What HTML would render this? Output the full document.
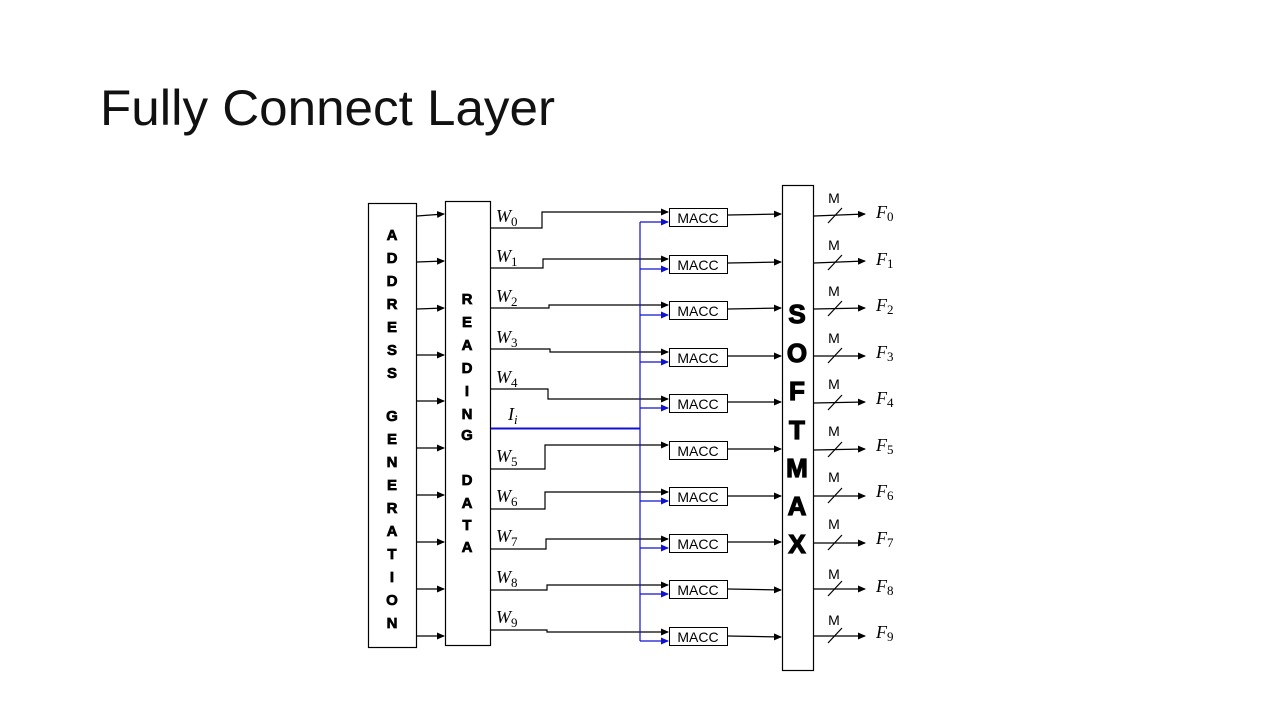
<!DOCTYPE html>
<html><head><meta charset="utf-8"><style>
html,body{margin:0;padding:0;background:#fff;}
svg{display:block;}
.m{font-family:"Liberation Sans",sans-serif;font-size:14px;text-anchor:middle;}
.i{font-family:"Liberation Serif",serif;font-style:italic;font-size:18px;}
.s{font-family:"Liberation Serif",serif;font-style:normal;font-size:13px;}
</style></head><body>
<svg width="1280" height="720" viewBox="0 0 1280 720" xmlns="http://www.w3.org/2000/svg">
<defs>
<marker id="ak" markerWidth="8" markerHeight="8" refX="7" refY="4" orient="auto" markerUnits="userSpaceOnUse"><path d="M0,0.5 L8,4 L0,7.5 Z" fill="#000"/></marker>
<marker id="ab" markerWidth="8" markerHeight="8" refX="7" refY="4" orient="auto" markerUnits="userSpaceOnUse"><path d="M0,0.5 L8,4 L0,7.5 Z" fill="#1010d0"/></marker>
</defs>
<text x="100" y="125" font-family="Liberation Sans, sans-serif" font-size="50" textLength="455" lengthAdjust="spacingAndGlyphs" fill="#111">Fully Connect Layer</text>

<g fill="none" stroke="#000" stroke-width="1.2">
<rect x="368.5" y="203.5" width="48" height="444"/>
<rect x="445.5" y="201.5" width="45" height="444"/>
<rect x="782.5" y="185.5" width="31" height="485"/>
</g>

<g font-family="Liberation Sans, sans-serif" font-weight="700" font-size="15" text-anchor="middle" stroke="#000" stroke-width="0.7">
<text x="392" y="240">A</text><text x="392" y="263">D</text><text x="392" y="286">D</text><text x="392" y="309">R</text><text x="392" y="332">E</text><text x="392" y="355">S</text><text x="392" y="378">S</text>
<text x="392" y="421">G</text><text x="392" y="444">E</text><text x="392" y="467">N</text><text x="392" y="490">E</text><text x="392" y="513">R</text><text x="392" y="536">A</text><text x="392" y="559">T</text><text x="392" y="582">I</text><text x="392" y="605">O</text><text x="392" y="628">N</text>
<text x="467" y="304">R</text><text x="467" y="327">E</text><text x="467" y="350">A</text><text x="467" y="373">D</text><text x="467" y="396">I</text><text x="467" y="419">N</text><text x="467" y="440">G</text>
<text x="467" y="485">D</text><text x="467" y="508">A</text><text x="467" y="530">T</text><text x="467" y="552">A</text>
</g>

<g font-family="Liberation Sans, sans-serif" font-weight="700" font-size="26" text-anchor="middle" stroke="#000" stroke-width="1.2">
<text x="797" y="323">S</text><text x="797" y="362">O</text><text x="797" y="400">F</text><text x="797" y="439">T</text><text x="797" y="477">M</text><text x="797" y="515">A</text><text x="797" y="553">X</text>
</g>

<g stroke="#000" stroke-width="1.2" marker-end="url(#ak)">
<line x1="417" y1="216" x2="444" y2="214"/><line x1="417" y1="262" x2="444" y2="261"/><line x1="417" y1="309" x2="444" y2="308"/><line x1="417" y1="355" x2="444" y2="355"/><line x1="417" y1="401" x2="444" y2="401"/><line x1="417" y1="448" x2="444" y2="448"/><line x1="417" y1="495" x2="444" y2="495"/><line x1="417" y1="542" x2="444" y2="542"/><line x1="417" y1="589" x2="444" y2="589"/><line x1="417" y1="636" x2="444" y2="636"/>
</g>

<g fill="none" stroke="#000" stroke-width="1.2">
<polyline points="491,228 542,228 542,212 668,212" marker-end="url(#ak)"/>
<polyline points="491,268 543,268 543,259 668,259" marker-end="url(#ak)"/>
<polyline points="491,308 549,308 549,305 668,305" marker-end="url(#ak)"/>
<polyline points="491,349 550,349 550,352 668,352" marker-end="url(#ak)"/>
<polyline points="491,389 548,389 548,399 668,399" marker-end="url(#ak)"/>
<polyline points="491,469 545,469 545,445 668,445" marker-end="url(#ak)"/>
<polyline points="491,509 545,509 545,492 668,492" marker-end="url(#ak)"/>
<polyline points="491,549 546,549 546,539 668,539" marker-end="url(#ak)"/>
<polyline points="491,590 547,590 547,585 668,585" marker-end="url(#ak)"/>
<polyline points="491,630 547,630 547,632 668,632" marker-end="url(#ak)"/>
</g>

<g fill="none" stroke="#1010d0" stroke-width="1.2">
<polyline points="491,428.5 640,428.5" stroke-width="2"/>
<line x1="640" y1="222" x2="640" y2="641"/>
<line x1="640" y1="222" x2="668" y2="222" marker-end="url(#ab)"/>
<line x1="640" y1="269" x2="668" y2="269" marker-end="url(#ab)"/>
<line x1="640" y1="315" x2="668" y2="315" marker-end="url(#ab)"/>
<line x1="640" y1="362" x2="668" y2="362" marker-end="url(#ab)"/>
<line x1="640" y1="408" x2="668" y2="408" marker-end="url(#ab)"/>
<line x1="640" y1="501" x2="668" y2="501" marker-end="url(#ab)"/>
<line x1="640" y1="548" x2="668" y2="548" marker-end="url(#ab)"/>
<line x1="640" y1="594" x2="668" y2="594" marker-end="url(#ab)"/>
<line x1="640" y1="641" x2="668" y2="641" marker-end="url(#ab)"/>
</g>

<g class="i">
<text x="496" y="222">W<tspan class="s" dy="4">0</tspan></text>
<text x="496" y="262">W<tspan class="s" dy="4">1</tspan></text>
<text x="496" y="302">W<tspan class="s" dy="4">2</tspan></text>
<text x="496" y="343">W<tspan class="s" dy="4">3</tspan></text>
<text x="496" y="383">W<tspan class="s" dy="4">4</tspan></text>
<text x="508" y="420">I<tspan font-size="13" dy="4">i</tspan></text>
<text x="496" y="462">W<tspan class="s" dy="4">5</tspan></text>
<text x="496" y="502">W<tspan class="s" dy="4">6</tspan></text>
<text x="496" y="542">W<tspan class="s" dy="4">7</tspan></text>
<text x="496" y="583">W<tspan class="s" dy="4">8</tspan></text>
<text x="496" y="623">W<tspan class="s" dy="4">9</tspan></text>
</g>

<g fill="#fff" stroke="#000" stroke-width="1">
<rect x="669.5" y="208.5" width="58" height="18"/><rect x="669.5" y="255.5" width="58" height="18"/><rect x="669.5" y="301.5" width="58" height="18"/><rect x="669.5" y="348.5" width="58" height="18"/><rect x="669.5" y="394.5" width="58" height="18"/><rect x="669.5" y="441.5" width="58" height="18"/><rect x="669.5" y="487.5" width="58" height="18"/><rect x="669.5" y="534.5" width="58" height="18"/><rect x="669.5" y="580.5" width="58" height="18"/><rect x="669.5" y="627.5" width="58" height="18"/>
</g>
<g class="m">
<text x="698" y="223">MACC</text><text x="698" y="270">MACC</text><text x="698" y="316">MACC</text><text x="698" y="363">MACC</text><text x="698" y="409">MACC</text><text x="698" y="456">MACC</text><text x="698" y="502">MACC</text><text x="698" y="549">MACC</text><text x="698" y="595">MACC</text><text x="698" y="642">MACC</text>
</g>

<g stroke="#000" stroke-width="1.2" marker-end="url(#ak)">
<line x1="728" y1="215" x2="781" y2="214"/><line x1="728" y1="263" x2="781" y2="262"/><line x1="728" y1="309" x2="781" y2="308"/><line x1="728" y1="356" x2="781" y2="356"/><line x1="728" y1="402" x2="781" y2="402"/><line x1="728" y1="449" x2="781" y2="449"/><line x1="728" y1="496" x2="781" y2="496"/><line x1="728" y1="542" x2="781" y2="542"/><line x1="728" y1="589" x2="781" y2="590"/><line x1="728" y1="636" x2="781" y2="637"/>
</g>

<g stroke="#000" stroke-width="1.2">
<line x1="814" y1="216" x2="865" y2="214" marker-end="url(#ak)"/><line x1="828" y1="223" x2="842" y2="208"/>
<line x1="814" y1="263" x2="865" y2="261" marker-end="url(#ak)"/><line x1="828" y1="270" x2="842" y2="255"/>
<line x1="814" y1="309" x2="865" y2="308" marker-end="url(#ak)"/><line x1="828" y1="316" x2="842" y2="301"/>
<line x1="814" y1="356" x2="865" y2="356" marker-end="url(#ak)"/><line x1="828" y1="363" x2="842" y2="348"/>
<line x1="814" y1="403" x2="865" y2="402" marker-end="url(#ak)"/><line x1="828" y1="410" x2="842" y2="395"/>
<line x1="814" y1="450" x2="865" y2="449" marker-end="url(#ak)"/><line x1="828" y1="457" x2="842" y2="442"/>
<line x1="814" y1="496" x2="865" y2="496" marker-end="url(#ak)"/><line x1="828" y1="503" x2="842" y2="488"/>
<line x1="814" y1="543" x2="865" y2="543" marker-end="url(#ak)"/><line x1="828" y1="550" x2="842" y2="535"/>
<line x1="814" y1="589" x2="865" y2="589" marker-end="url(#ak)"/><line x1="828" y1="596" x2="842" y2="581"/>
<line x1="814" y1="636" x2="865" y2="636" marker-end="url(#ak)"/><line x1="828" y1="643" x2="842" y2="628"/>
</g>
<g class="m" font-size="15">
<text x="834" y="203">M</text><text x="834" y="250">M</text><text x="834" y="296">M</text><text x="834" y="343">M</text><text x="834" y="389">M</text><text x="834" y="436">M</text><text x="834" y="482">M</text><text x="834" y="529">M</text><text x="834" y="579">M</text><text x="834" y="625">M</text>
</g>
<g class="i">
<text x="876" y="218">F<tspan class="s" dy="3">0</tspan></text>
<text x="876" y="265">F<tspan class="s" dy="3">1</tspan></text>
<text x="876" y="311">F<tspan class="s" dy="3">2</tspan></text>
<text x="876" y="358">F<tspan class="s" dy="3">3</tspan></text>
<text x="876" y="404">F<tspan class="s" dy="3">4</tspan></text>
<text x="876" y="451">F<tspan class="s" dy="3">5</tspan></text>
<text x="876" y="497">F<tspan class="s" dy="3">6</tspan></text>
<text x="876" y="544">F<tspan class="s" dy="3">7</tspan></text>
<text x="876" y="592">F<tspan class="s" dy="3">8</tspan></text>
<text x="876" y="638">F<tspan class="s" dy="3">9</tspan></text>
</g>
</svg>
</body></html>
